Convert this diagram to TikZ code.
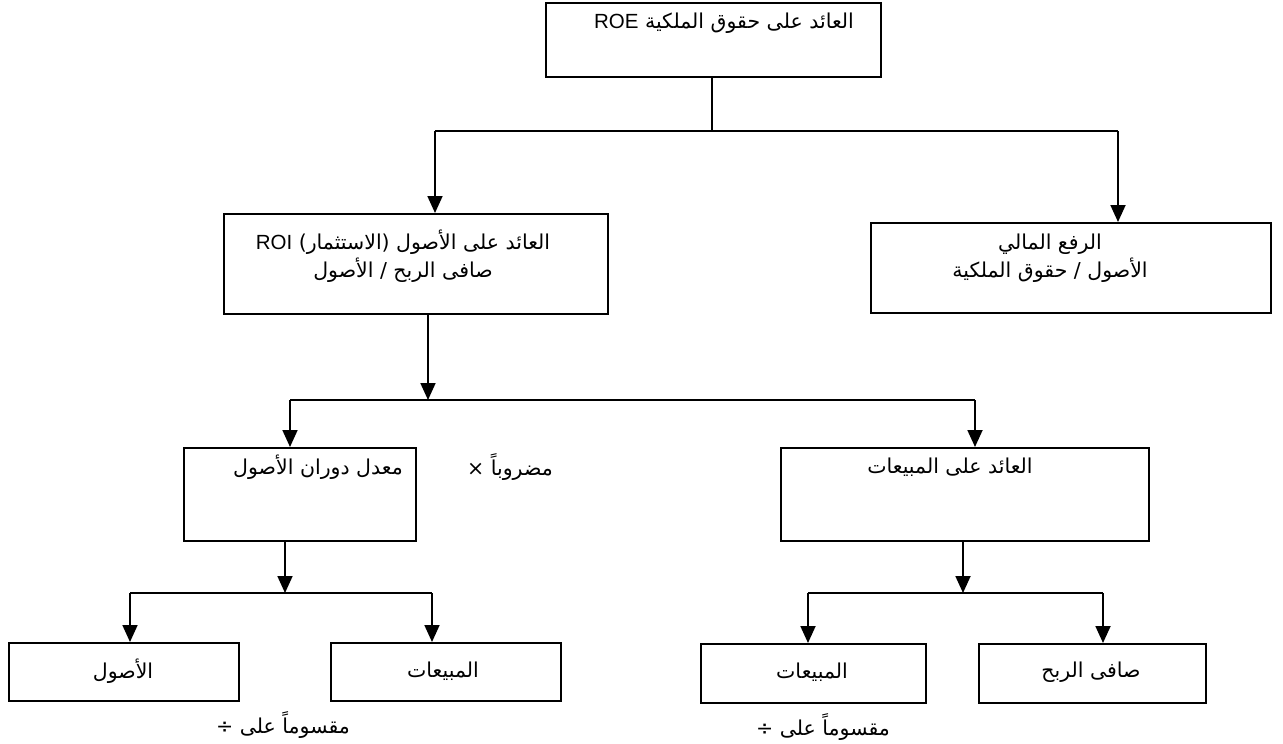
\documentclass[tikz,border=0pt]{standalone}
\usepackage{fontspec}
\setmainfont{Liberation Sans}
\newfontfamily\arabicfont[Script=Arabic]{DejaVu Sans}
\TeXXeTstate=1
\usetikzlibrary{arrows.meta}
\newcommand\AR[1]{{\arabicfont\beginR #1\endR}}
\newcommand\LT[1]{\beginL{\rmfamily #1}\endL}
\begin{document}
\begin{tikzpicture}[x=1pt,y=-1pt,
  box/.style={draw, line width=1.8pt, inner sep=0pt, anchor=north west},
  txt/.style={inner sep=0pt, font=\fontsize{20.5}{28}\selectfont, align=center},
  ln/.style={line width=1.8pt},
  arr/.style={line width=1.8pt, -{Triangle[length=17pt,width=15pt]}}]
\useasboundingbox (0,0) rectangle (1283,744);
% boxes
\node[box, minimum width=335pt, minimum height=74pt] (top) at (545,2) {};
\node[box, minimum width=384pt, minimum height=100pt] (roi) at (223,213) {};
\node[box, minimum width=400pt, minimum height=90pt] (lev) at (870,222) {};
\node[box, minimum width=232pt, minimum height=93pt] (turn) at (183,447) {};
\node[box, minimum width=368pt, minimum height=93pt] (ros) at (780,447) {};
\node[box, minimum width=230pt, minimum height=58pt] (assets) at (8,642) {};
\node[box, minimum width=230pt, minimum height=58pt] (salesL) at (330,642) {};
\node[box, minimum width=225pt, minimum height=59pt] (salesR) at (700,643) {};
\node[box, minimum width=227pt, minimum height=59pt] (np) at (978,643) {};
% texts
\node[txt] (topT) at (724,23) {\AR{العائد على حقوق الملكية \LT{ROE}}};
\node[txt] (roiT) at (403,256) {\AR{العائد على الأصول (الاستثمار) \LT{ROI}}\\\AR{صافى الربح / الأصول}};
\node[txt] (levT) at (1050,258) {\AR{الرفع المالي}\\\AR{الأصول / حقوق الملكية}};
\node[txt] (turnT) at (318,467) {\AR{معدل دوران الأصول}};
\node[txt] (mulT) at (510,467) {\AR{مضروباً ×}};
\node[txt] (rosT) at (950,467) {\AR{العائد على المبيعات}};
\node[txt] (assetsT) at (123,671) {\AR{الأصول}};
\node[txt] (salesLT) at (443,671) {\AR{المبيعات}};
\node[txt] (salesRT) at (812,672) {\AR{المبيعات}};
\node[txt] (npT) at (1091,672) {\AR{صافى الربح}};
\node[txt] (divL) at (283,725) {\AR{مقسوماً على ÷}};
\node[txt] (divR) at (823,727) {\AR{مقسوماً على ÷}};
% connectors level 1
\coordinate (j1) at (712,131);
\coordinate (j1L) at (435,131);
\coordinate (j1R) at (1118,131);
\draw[ln] (top.south -| j1) -- (j1);
\draw[ln] (j1L) -- (j1R);
\draw[arr] (j1L) -- (j1L |- roi.north);
\draw[arr] (j1R) -- (j1R |- lev.north);
% level 2
\coordinate (j2) at (428,400);
\coordinate (j2L) at (290,400);
\coordinate (j2R) at (975,400);
\draw[arr] (roi.south -| j2) -- (j2);
\draw[ln] (j2L) -- (j2R);
\draw[arr] (j2L) -- (j2L |- turn.north);
\draw[arr] (j2R) -- (j2R |- ros.north);
% level 3 left
\coordinate (j3) at (285,593);
\coordinate (j3L) at (130,593);
\coordinate (j3R) at (432,593);
\draw[arr] (turn.south -| j3) -- (j3);
\draw[ln] (j3L) -- (j3R);
\draw[arr] (j3L) -- (j3L |- assets.north);
\draw[arr] (j3R) -- (j3R |- salesL.north);
% level 3 right
\coordinate (j4) at (963,593);
\coordinate (j4L) at (808,593);
\coordinate (j4R) at (1103,593);
\draw[arr] (ros.south -| j4) -- (j4);
\draw[ln] (j4L) -- (j4R);
\draw[arr] (j4L) -- (j4L |- salesR.north);
\draw[arr] (j4R) -- (j4R |- np.north);
\end{tikzpicture}
\end{document}
